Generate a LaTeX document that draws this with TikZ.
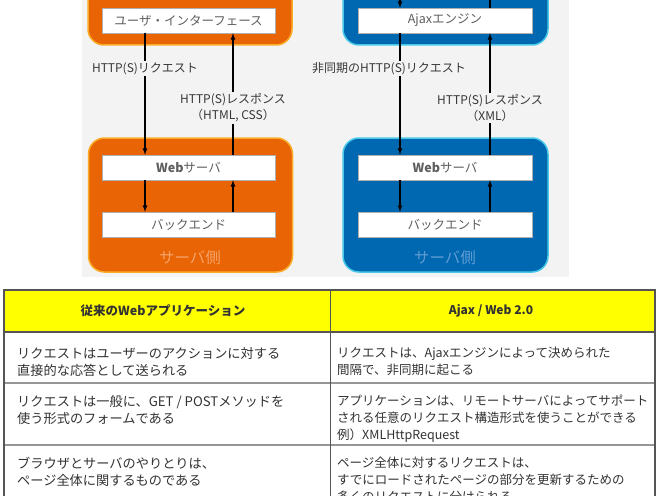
\documentclass[tikz,border=0pt]{standalone}
\usepackage{fontspec}
\setmainfont{Noto Sans CJK JP}
\usetikzlibrary{arrows}
\definecolor{diagbg}{RGB}{243,243,243}
\definecolor{oldfill}{RGB}{232,100,4}
\definecolor{oldedge}{RGB}{250,172,40}
\definecolor{oldtext}{RGB}{246,162,104}
\definecolor{ajaxfill}{RGB}{0,104,176}
\definecolor{ajaxedge}{RGB}{70,200,232}
\definecolor{ajaxtext}{RGB}{96,156,212}
\definecolor{boxline}{RGB}{175,175,175}
\definecolor{boxtext}{RGB}{95,95,95}
\definecolor{labeltext}{RGB}{55,55,55}
\definecolor{headyellow}{RGB}{255,255,0}
\definecolor{framegray}{RGB}{85,85,85}
\definecolor{rowgray}{RGB}{150,150,150}
\definecolor{celltext}{RGB}{50,50,50}

\begin{document}
\begin{tikzpicture}[x=1pt,y=-1pt,
  panel/.style={rectangle,rounded corners=16pt,line width=1.5pt,minimum width=204pt},
  layer/.style={rectangle,draw=boxline,fill=white,minimum width=173pt,minimum height=25pt,
    text=boxtext,font=\fontsize{12.5}{14}\selectfont},
  tag/.style={fill=diagbg,inner sep=1.5pt,align=center,text=labeltext,
    font=\fontsize{12}{16}\selectfont},
  flow/.style={line width=1.2pt,-latex},
  cell/.style={anchor=north west,align=left,inner sep=0pt,text=celltext,
    font=\fontsize{12.5}{17}\selectfont},
  head/.style={text=celltext,font=\fontsize{12.5}{14}\selectfont\bfseries}]
\useasboundingbox (0,0) rectangle (660,495);
\fill [diagbg] (82,0) rectangle (569,277);
% traditional web application
\node (clientL) at (190,7.5)   [panel,fill=oldfill,draw=oldedge,minimum height=75pt] {};
\node (serverL) at (190.5,205) [panel,fill=oldfill,draw=oldedge,minimum height=134pt] {};
\node (uiL)     at (188.5,20.5)  [layer] {ユーザ・インターフェース};
\node (webL)    at (188.5,167.5) [layer] {\textbf{Web}サーバ};
\node (backL)   at (188.5,224.5) [layer] {バックエンド};
\node (sideL)   at (190,258) [text=oldtext,font=\fontsize{15.5}{17}\selectfont] {サーバ側};
\draw [flow] ([xshift=-43.5pt]uiL.south) -- node [tag,pos=0.29] {HTTP(S)リクエスト} ([xshift=-43.5pt]webL.north);
\draw [flow] ([xshift=44.5pt]webL.north) -- node [tag,pos=0.385] {HTTP(S)レスポンス\\（HTML, CSS）} ([xshift=44.5pt]uiL.south);
\draw [flow] ([xshift=-43.5pt]webL.south) -- ([xshift=-43.5pt]backL.north);
\draw [flow] ([xshift=44.5pt]backL.north) -- ([xshift=44.5pt]webL.south);
% ajax web application
\node (clientR) at (445.5,7.5) [panel,fill=ajaxfill,draw=ajaxedge,minimum width=205pt,minimum height=75pt] {};
\node (serverR) at (445.5,205) [panel,fill=ajaxfill,draw=ajaxedge,minimum width=205pt,minimum height=134pt] {};
\node (ajax)    at (445,20.5)  [layer,minimum width=174pt] {Ajaxエンジン};
\node (webR)    at (445,167.5) [layer,minimum width=174pt] {\textbf{Web}サーバ};
\node (backR)   at (445,224.5) [layer,minimum width=174pt] {バックエンド};
\node (sideR)   at (445,258) [text=ajaxtext,font=\fontsize{15.5}{17}\selectfont] {サーバ側};
\coordinate (uiR) at (445,-25);
\draw [flow] ([xshift=-45pt]uiR) -- ([xshift=-45pt]ajax.north);
\draw [flow] ([xshift=45pt]ajax.north) -- ([xshift=45pt]uiR);
\draw [flow] ([xshift=-45pt]ajax.south) -- node [tag,pos=0.29,xshift=-11pt] {非同期のHTTP(S)リクエスト} ([xshift=-45pt]webR.north);
\draw [flow] ([xshift=45pt]webR.north) -- node [tag,pos=0.385] {HTTP(S)レスポンス\\（XML）} ([xshift=45pt]ajax.south);
\draw [flow] ([xshift=-45pt]webR.south) -- ([xshift=-45pt]backR.north);
\draw [flow] ([xshift=45pt]backR.north) -- ([xshift=45pt]webR.south);
% comparison table
\fill [headyellow] (4,290) rectangle (655,332);
\draw [rowgray,line width=1.2pt] (4,383) -- (655,383);
\draw [rowgray,line width=1.2pt] (4,445) -- (655,445);
\draw [framegray,line width=1pt] (330,290) -- (330,500);
\draw [framegray,line width=1.2pt] (4,332) -- (655,332);
\draw [framegray,line width=1.6pt] (4,500) -- (4,290) -- (655,290) -- (655,500);
\node (headOld)  at (163,311) [head] {従来のWebアプリケーション};
\node (headAjax) at (491,311) [head,font=\fontsize{12}{14}\selectfont\bfseries] {Ajax / Web 2.0};
\node (oldReq)   at (17,347)  [cell,font=\fontsize{13.2}{17}\selectfont] {リクエストはユーザーのアクションに対する\\直接的な応答として送られる};
\node (oldForm)  at (17,395)  [cell,font=\fontsize{13.2}{17}\selectfont] {リクエストは一般に、GET / POSTメソッドを\\使う形式のフォームである};
\node (oldPage)  at (17,457)  [cell,font=\fontsize{13.2}{17}\selectfont] {ブラウザとサーバのやりとりは、\\ページ全体に関するものである};
\node (ajaxReq)  at (337,347) [cell] {リクエストは、Ajaxエンジンによって決められた\\間隔で、非同期に起こる};
\node (ajaxForm) at (337,395) [cell] {アプリケーションは、リモートサーバによってサポート\\される任意のリクエスト構造形式を使うことができる\\例）XMLHttpRequest};
\node (ajaxPage) at (337,457) [cell] {ページ全体に対するリクエストは、\\すでにロードされたページの部分を更新するための\\多くのリクエストに分けられる};
\end{tikzpicture}
\end{document}
